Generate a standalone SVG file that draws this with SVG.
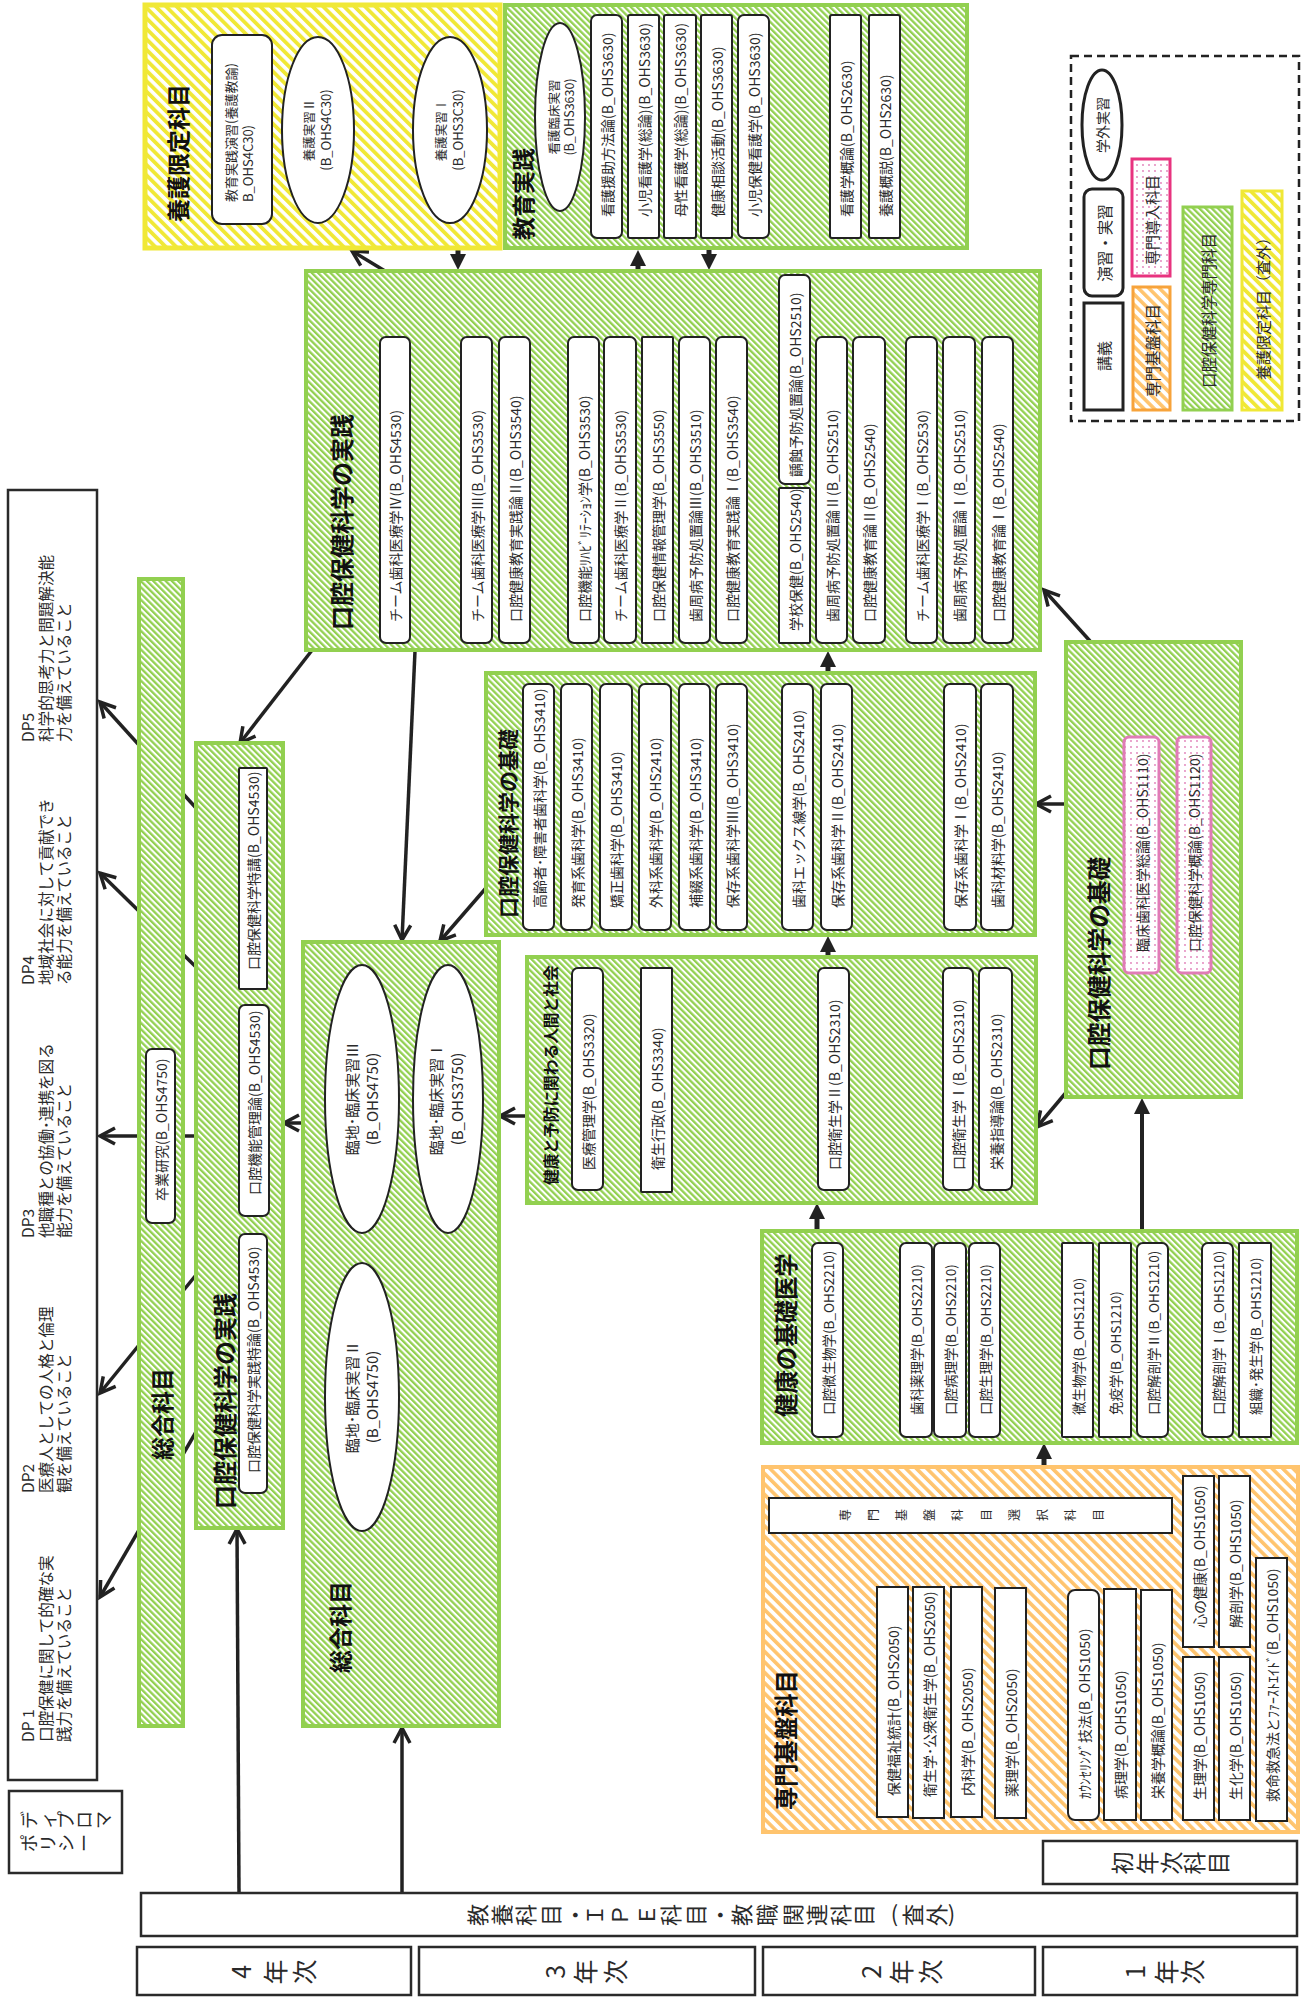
<svg xmlns="http://www.w3.org/2000/svg" width="1308" height="1997" viewBox="0 0 1308 1997">
<defs>
<style>
text{font-family:"Noto Sans CJK JP","Noto Sans",sans-serif;fill:#2a2a2a}
.r{font-size:14px;dominant-baseline:central}
.m{text-anchor:middle}
.h{font-weight:700;fill:#111;dominant-baseline:central}
.b{fill:#fff;stroke:#222;stroke-width:2}
.g{fill:url(#pg);stroke:#92D050;stroke-width:4}
.yl{fill:url(#py);stroke:#F0E836;stroke-width:5}
.o{fill:url(#po);stroke:#FFC46E;stroke-width:4}
.p{fill:url(#pp);stroke:#E07CB7;stroke-width:3}
.k{fill:#fff;stroke:#2a2a2a;stroke-width:2.5}
.c{fill:none;stroke:#222;stroke-width:3.5}
.f{fill:none;stroke:#222;stroke-width:5}
.dp{font-size:15.6px;dominant-baseline:central}
</style>
<pattern id="pg" width="4.4" height="4.4" patternUnits="userSpaceOnUse" patternTransform="rotate(-45)"><rect width="4.4" height="4.4" fill="#fff"/><rect width="2.3" height="4.4" fill="#92D050"/></pattern>
<pattern id="py" width="7.4" height="7.4" patternUnits="userSpaceOnUse" patternTransform="rotate(-45)"><rect width="7.4" height="7.4" fill="#fff"/><rect width="3.8" height="7.4" fill="#F0E836"/></pattern>
<pattern id="po" width="7.4" height="7.4" patternUnits="userSpaceOnUse" patternTransform="rotate(-45)"><rect width="7.4" height="7.4" fill="#fff"/><rect width="3.6" height="7.4" fill="#FFC46E"/></pattern>
<pattern id="pp" width="6" height="6" patternUnits="userSpaceOnUse"><rect width="6" height="6" fill="#fff"/><circle cx="3" cy="3" r="0.9" fill="#E07CB7"/></pattern>
<marker id="ao" viewBox="0 0 20 20" refX="18" refY="10" markerWidth="20" markerHeight="20" markerUnits="userSpaceOnUse" orient="auto" overflow="visible"><path d="M3,2 L18,10 L3,18" fill="none" stroke="#222" stroke-width="3.5"/></marker>
<marker id="af" viewBox="0 0 16 16" refX="6" refY="8" markerWidth="16" markerHeight="16" markerUnits="userSpaceOnUse" orient="auto"><path d="M0,0 L16,8 L0,16 Z" fill="#222"/></marker>
</defs>
<rect width="1308" height="1997" fill="#fff"/>

<g id="connectors">
<g class="c" marker-end="url(#ao)">
<path d="M385,271 L352,251"/>
<path d="M313,649 L240,743"/>
<path d="M415,651 L402,940"/>
<path d="M486,888 L440,941"/>
<path d="M303,1123 L284,1123"/>
<path d="M527,1116 L500,1116"/>
<path d="M1066,804 L1036,804"/>
<path d="M1090,641 L1044,590"/>
<path d="M1069,1089 L1037,1127"/>
<path d="M239,1893 L237,1529"/>
<path d="M402,1893 L402,1728"/>
<path d="M196,808 L100,702"/>
<path d="M196,967 L100,873"/>
<path d="M196,1136 L100,1136"/>
<path d="M196,1275 L100,1393"/>
<path d="M196,1432 L100,1597"/>
</g>
<g class="f" marker-end="url(#af)">
<path d="M458,249 L458,260"/>
<path d="M638,271 L638,260"/>
<path d="M709,249 L709,260"/>
<path d="M828,673 L828,661"/>
<path d="M828,957 L828,946"/>
<path d="M817,1231 L817,1213"/>
<path d="M1142,1231 L1142,1108" style="stroke-width:4"/>
<path d="M1044,1467 L1044,1453"/>
</g>
</g>

<g id="yogo">
<rect class="yl" x="145" y="5" width="355" height="243"/>
<text class="h" style="font-size:23px" transform="translate(177,222) rotate(-90)">養護限定科目</text>
<g id="yogo-1"><rect class="b" x="212" y="35" width="60" height="189" rx="10"/>
<text class="r" style="font-size:13px" transform="translate(230,202) rotate(-90)">教育実践演習(養護教諭)</text>
<text class="r" style="font-size:13px" transform="translate(247,202) rotate(-90)">B_OHS4C30)</text></g>
<g id="yogo-2"><ellipse class="b" cx="318" cy="130" rx="36" ry="93"/>
<text class="r m" style="font-size:12.5px" transform="translate(308,130) rotate(-90)">養護実習Ⅱ</text>
<text class="r m" style="font-size:13px" transform="translate(325,130) rotate(-90)">(B_OHS4C30)</text></g>
<g id="yogo-3"><ellipse class="b" cx="450" cy="130" rx="37" ry="93"/>
<text class="r m" style="font-size:12.5px" transform="translate(440,130) rotate(-90)">養護実習Ⅰ</text>
<text class="r m" style="font-size:13px" transform="translate(457,130) rotate(-90)">(B_OHS3C30)</text></g>
</g>

<g id="kyoiku">
<rect class="g" x="505" y="5" width="462" height="243"/>
<text class="h" style="font-size:23px" transform="translate(522,240) rotate(-90)">教育実践</text>
<g id="kyoiku-1"><ellipse class="b" cx="560" cy="117" rx="25" ry="94"/>
<text class="r m" style="font-size:12.5px" transform="translate(553,117) rotate(-90)">看護臨床実習</text>
<text class="r m" style="font-size:12.5px" transform="translate(568,117) rotate(-90)">(B_OHS3630)</text></g>
<g id="kyoiku-2"><rect class="b" x="591" y="15" width="31" height="223" rx="6"/><text class="r" transform="translate(606.5,217) rotate(-90)">看護援助方法論(B_OHS3630)</text></g>
<g id="kyoiku-3"><rect class="b" x="628" y="15" width="31" height="223" rx="2"/><text class="r" transform="translate(643.5,217) rotate(-90)">小児看護学(総論)(B_OHS3630)</text></g>
<g id="kyoiku-4"><rect class="b" x="664" y="15" width="32" height="223" rx="2"/><text class="r" transform="translate(680,217) rotate(-90)">母性看護学(総論)(B_OHS3630)</text></g>
<g id="kyoiku-5"><rect class="b" x="701" y="15" width="31" height="223" rx="2"/><text class="r" transform="translate(716.5,217) rotate(-90)">健康相談活動(B_OHS3630)</text></g>
<g id="kyoiku-6"><rect class="b" x="738" y="15" width="31" height="223" rx="6"/><text class="r" transform="translate(753.5,217) rotate(-90)">小児保健看護学(B_OHS3630)</text></g>
<g id="kyoiku-7"><rect class="b" x="830" y="15" width="31" height="223" rx="2"/><text class="r" transform="translate(845.5,217) rotate(-90)">看護学概論(B_OHS2630)</text></g>
<g id="kyoiku-8"><rect class="b" x="869" y="15" width="31" height="223" rx="2"/><text class="r" transform="translate(884.5,217) rotate(-90)">養護概説(B_OHS2630)</text></g>
</g>

<g id="jissen-upper">
<rect class="g" x="306" y="271" width="734" height="379"/>
<text class="h" style="font-size:24px" transform="translate(340,630) rotate(-90)">口腔保健科学の実践</text>
<g id="ju-1"><rect class="b" x="380" y="337" width="30" height="306" rx="6"/><text class="r" transform="translate(395,622) rotate(-90)">チーム歯科医療学Ⅳ(B_OHS4530)</text></g>
<g id="ju-2"><rect class="b" x="461" y="337" width="31" height="306" rx="6"/><text class="r" transform="translate(476.5,622) rotate(-90)">チーム歯科医療学Ⅲ(B_OHS3530)</text></g>
<g id="ju-3"><rect class="b" x="499" y="337" width="31" height="306" rx="6"/><text class="r" transform="translate(514.5,622) rotate(-90)">口腔健康教育実践論Ⅱ(B_OHS3540)</text></g>
<g id="ju-4"><rect class="b" x="568" y="337" width="31" height="306" rx="6"/><text class="r" transform="translate(583.5,622) rotate(-90)">口腔機能ﾘﾊﾋﾞﾘﾃｰｼｮﾝ学(B_OHS3530)</text></g>
<g id="ju-5"><rect class="b" x="604" y="337" width="32" height="306" rx="6"/><text class="r" transform="translate(620,622) rotate(-90)">チーム歯科医療学Ⅱ(B_OHS3530)</text></g>
<g id="ju-6"><rect class="b" x="642" y="337" width="31" height="306" rx="1"/><text class="r" transform="translate(657.5,622) rotate(-90)">口腔保健情報管理学(B_OHS3550)</text></g>
<g id="ju-7"><rect class="b" x="679" y="337" width="31" height="306" rx="6"/><text class="r" transform="translate(694.5,622) rotate(-90)">歯周病予防処置論Ⅲ(B_OHS3510)</text></g>
<g id="ju-8"><rect class="b" x="716" y="337" width="31" height="306" rx="6"/><text class="r" transform="translate(731.5,622) rotate(-90)">口腔健康教育実践論Ⅰ(B_OHS3540)</text></g>
<g id="ju-9"><rect class="b" x="779" y="275" width="31" height="209" rx="6"/><text class="r" transform="translate(794.5,477) rotate(-90)">齲蝕予防処置論(B_OHS2510)</text></g>
<g id="ju-10"><rect class="b" x="779" y="488" width="31" height="155" rx="1"/><text class="r" transform="translate(794.5,631) rotate(-90)">学校保健(B_OHS2540)</text></g>
<g id="ju-11"><rect class="b" x="816" y="337" width="31" height="306" rx="6"/><text class="r" transform="translate(831.5,622) rotate(-90)">歯周病予防処置論Ⅱ(B_OHS2510)</text></g>
<g id="ju-12"><rect class="b" x="853" y="337" width="32" height="306" rx="6"/><text class="r" transform="translate(869,622) rotate(-90)">口腔健康教育論Ⅱ(B_OHS2540)</text></g>
<g id="ju-13"><rect class="b" x="906" y="337" width="31" height="306" rx="6"/><text class="r" transform="translate(921.5,622) rotate(-90)">チーム歯科医療学Ⅰ(B_OHS2530)</text></g>
<g id="ju-14"><rect class="b" x="943" y="337" width="32" height="306" rx="6"/><text class="r" transform="translate(959,622) rotate(-90)">歯周病予防処置論Ⅰ(B_OHS2510)</text></g>
<g id="ju-15"><rect class="b" x="982" y="337" width="31" height="306" rx="6"/><text class="r" transform="translate(997.5,622) rotate(-90)">口腔健康教育論Ⅰ(B_OHS2540)</text></g>
</g>

<g id="kiso-upper">
<rect class="g" x="486" y="673" width="549" height="262"/>
<text class="h" style="font-size:21px" transform="translate(507,918) rotate(-90)">口腔保健科学の基礎</text>
<g id="ku-1"><rect class="b" x="523" y="684" width="31" height="246" rx="6"/><text class="r" transform="translate(538.5,908) rotate(-90)">高齢者･障害者歯科学(B_OHS3410)</text></g>
<g id="ku-2"><rect class="b" x="561" y="684" width="31" height="246" rx="6"/><text class="r" transform="translate(576.5,908) rotate(-90)">発育系歯科学(B_OHS3410)</text></g>
<g id="ku-3"><rect class="b" x="600" y="684" width="32" height="246" rx="6"/><text class="r" transform="translate(616,908) rotate(-90)">矯正歯科学(B_OHS3410)</text></g>
<g id="ku-4"><rect class="b" x="639" y="684" width="32" height="246" rx="6"/><text class="r" transform="translate(655,908) rotate(-90)">外科系歯科学(B_OHS2410)</text></g>
<g id="ku-5"><rect class="b" x="679" y="684" width="31" height="246" rx="6"/><text class="r" transform="translate(694.5,908) rotate(-90)">補綴系歯科学(B_OHS3410)</text></g>
<g id="ku-6"><rect class="b" x="716" y="684" width="31" height="246" rx="6"/><text class="r" transform="translate(731.5,908) rotate(-90)">保存系歯科学Ⅲ(B_OHS3410)</text></g>
<g id="ku-7"><rect class="b" x="782" y="684" width="31" height="246" rx="6"/><text class="r" transform="translate(797.5,908) rotate(-90)">歯科エックス線学(B_OHS2410)</text></g>
<g id="ku-8"><rect class="b" x="821" y="684" width="31" height="246" rx="6"/><text class="r" transform="translate(836.5,908) rotate(-90)">保存系歯科学Ⅱ(B_OHS2410)</text></g>
<g id="ku-9"><rect class="b" x="944" y="684" width="32" height="246" rx="6"/><text class="r" transform="translate(960,908) rotate(-90)">保存系歯科学Ⅰ(B_OHS2410)</text></g>
<g id="ku-10"><rect class="b" x="981" y="684" width="32" height="246" rx="6"/><text class="r" transform="translate(997,908) rotate(-90)">歯科材料学(B_OHS2410)</text></g>
</g>

<g id="kenko-yobo">
<rect class="g" x="527" y="957" width="509" height="246"/>
<text class="h" style="font-size:15.7px" transform="translate(550,1185) rotate(-90)">健康と予防に関わる人間と社会</text>
<g id="ky-1"><rect class="b" x="572" y="968" width="31" height="222" rx="6"/><text class="r" transform="translate(587.5,1170) rotate(-90)">医療管理学(B_OHS3320)</text></g>
<g id="ky-2"><rect class="b" x="641" y="968" width="31" height="224" rx="1"/><text class="r" transform="translate(656.5,1170) rotate(-90)">衛生行政(B_OHS3340)</text></g>
<g id="ky-3"><rect class="b" x="818" y="968" width="31" height="222" rx="6"/><text class="r" transform="translate(833.5,1170) rotate(-90)">口腔衛生学Ⅱ(B_OHS2310)</text></g>
<g id="ky-4"><rect class="b" x="943" y="968" width="30" height="222" rx="6"/><text class="r" transform="translate(958,1170) rotate(-90)">口腔衛生学Ⅰ(B_OHS2310)</text></g>
<g id="ky-5"><rect class="b" x="979" y="968" width="33" height="222" rx="6"/><text class="r" transform="translate(995.5,1170) rotate(-90)">栄養指導論(B_OHS2310)</text></g>
</g>

<g id="kiso-lower">
<rect class="g" x="1066" y="642" width="175" height="455"/>
<text class="h" style="font-size:23.7px" transform="translate(1098,1070) rotate(-90)">口腔保健科学の基礎</text>
<g id="kl-1"><rect class="p" x="1124" y="737" width="35" height="236" rx="5"/><text class="r" transform="translate(1141.5,952) rotate(-90)">臨床歯科医学総論(B_OHS1110)</text></g>
<g id="kl-2"><rect class="p" x="1177" y="737" width="34" height="236" rx="5"/><text class="r" transform="translate(1194,952) rotate(-90)">口腔保健科学概論(B_OHS1120)</text></g>
</g>

<g id="kenko-kiso">
<rect class="g" x="762" y="1231" width="535" height="212"/>
<text class="h" style="font-size:23.4px" transform="translate(785,1417) rotate(-90)">健康の基礎医学</text>
<g id="kk-1"><rect class="b" x="812" y="1243" width="31" height="194" rx="6"/><text class="r" style="font-size:13.5px" transform="translate(827.5,1415) rotate(-90)">口腔微生物学(B_OHS2210)</text></g>
<g id="kk-2"><rect class="b" x="900" y="1243" width="32" height="194" rx="6"/><text class="r" style="font-size:13.5px" transform="translate(916,1415) rotate(-90)">歯科薬理学(B_OHS2210)</text></g>
<g id="kk-3"><rect class="b" x="934" y="1243" width="32" height="194" rx="6"/><text class="r" style="font-size:13.5px" transform="translate(950,1415) rotate(-90)">口腔病理学(B_OHS2210)</text></g>
<g id="kk-4"><rect class="b" x="969" y="1243" width="31" height="194" rx="6"/><text class="r" style="font-size:13.5px" transform="translate(984.5,1415) rotate(-90)">口腔生理学(B_OHS2210)</text></g>
<g id="kk-5"><rect class="b" x="1062" y="1243" width="31" height="194" rx="1"/><text class="r" style="font-size:13.5px" transform="translate(1077.5,1415) rotate(-90)">微生物学(B_OHS1210)</text></g>
<g id="kk-6"><rect class="b" x="1099" y="1243" width="32" height="194" rx="1"/><text class="r" style="font-size:13.5px" transform="translate(1115,1415) rotate(-90)">免疫学(B_OHS1210)</text></g>
<g id="kk-7"><rect class="b" x="1137" y="1243" width="31" height="194" rx="6"/><text class="r" style="font-size:13.5px" transform="translate(1152.5,1415) rotate(-90)">口腔解剖学Ⅱ(B_OHS1210)</text></g>
<g id="kk-8"><rect class="b" x="1202" y="1243" width="31" height="194" rx="6"/><text class="r" style="font-size:13.5px" transform="translate(1217.5,1415) rotate(-90)">口腔解剖学Ⅰ(B_OHS1210)</text></g>
<g id="kk-9"><rect class="b" x="1239" y="1243" width="32" height="194" rx="1"/><text class="r" style="font-size:13.5px" transform="translate(1255,1415) rotate(-90)">組織･発生学(B_OHS1210)</text></g>
</g>

<g id="senmon-kiban">
<rect class="o" x="763" y="1467" width="535" height="365"/>
<text class="h" style="font-size:23.3px" transform="translate(785,1810) rotate(-90)">専門基盤科目</text>
<g id="sk-0"><rect class="b" x="769" y="1498" width="403" height="35"/>
<text style="font-size:12px" rotate="-90" x="849.6 877.6 905.6 933.6 961.6 990.6 1018.6 1046.6 1074.6 1102.6" y="1521">専門基盤科目選択科目</text></g>
<g id="sk-1"><rect class="b" x="877" y="1587" width="31" height="230"/><text class="r" transform="translate(892.5,1796) rotate(-90)">保健福祉統計(B_OHS2050)</text></g>
<g id="sk-2"><rect class="b" x="913" y="1587" width="31" height="231"/><text class="r" transform="translate(928.5,1797) rotate(-90)">衛生学･公衆衛生学(B_OHS2050)</text></g>
<g id="sk-3"><rect class="b" x="951" y="1587" width="31" height="230"/><text class="r" transform="translate(966.5,1796) rotate(-90)">内科学(B_OHS2050)</text></g>
<g id="sk-4"><rect class="b" x="995" y="1588" width="31" height="230"/><text class="r" transform="translate(1010.5,1797) rotate(-90)">薬理学(B_OHS2050)</text></g>
<g id="sk-5"><rect class="b" x="1068" y="1590" width="31" height="230" rx="7"/><text class="r" transform="translate(1083.5,1799) rotate(-90)">ｶｳﾝｾﾘﾝｸﾞ技法(B_OHS1050)</text></g>
<g id="sk-6"><rect class="b" x="1104" y="1589" width="32" height="231"/><text class="r" transform="translate(1120,1799) rotate(-90)">病理学(B_OHS1050)</text></g>
<g id="sk-7"><rect class="b" x="1141" y="1590" width="31" height="230"/><text class="r" transform="translate(1156.5,1799) rotate(-90)">栄養学概論(B_OHS1050)</text></g>
<g id="sk-8"><rect class="b" x="1183" y="1476" width="31" height="171"/><text class="r" transform="translate(1198.5,1628) rotate(-90)">心の健康(B_OHS1050)</text></g>
<g id="sk-9"><rect class="b" x="1219" y="1476" width="31" height="171"/><text class="r" transform="translate(1234.5,1628) rotate(-90)">解剖学(B_OHS1050)</text></g>
<g id="sk-10"><rect class="b" x="1183" y="1657" width="31" height="163"/><text class="r" transform="translate(1198.5,1800) rotate(-90)">生理学(B_OHS1050)</text></g>
<g id="sk-11"><rect class="b" x="1219" y="1657" width="31" height="163"/><text class="r" transform="translate(1234.5,1800) rotate(-90)">生化学(B_OHS1050)</text></g>
<g id="sk-12"><rect class="b" x="1256" y="1558" width="31" height="263"/><text class="r" transform="translate(1271.5,1802) rotate(-90)">救命救急法とﾌｧｰｽﾄｴｲﾄﾞ(B_OHS1050)</text></g>
</g>

<g id="sogo-narrow">
<rect class="g" x="139" y="579" width="44" height="1147"/>
<text class="h" style="font-size:23px" transform="translate(161,1460) rotate(-90)">総合科目</text>
<g id="sn-1"><rect class="b" x="146" y="1049" width="29" height="174" rx="6"/><text class="r" transform="translate(160.5,1201) rotate(-90)">卒業研究(B_OHS4750)</text></g>
</g>

<g id="jissen-lower">
<rect class="g" x="196" y="743" width="87" height="785"/>
<text class="h" style="font-size:24px" transform="translate(223,1509) rotate(-90)">口腔保健科学の実践</text>
<g id="jl-1"><rect class="b" x="239" y="768" width="28" height="221" rx="1"/><text class="r" transform="translate(253,970) rotate(-90)">口腔保健科学特講(B_OHS4530)</text></g>
<g id="jl-2"><rect class="b" x="239" y="1005" width="30" height="211" rx="6"/><text class="r" transform="translate(254,1195) rotate(-90)">口腔機能管理論(B_OHS4530)</text></g>
<g id="jl-3"><rect class="b" x="239" y="1234" width="28" height="259" rx="6"/><text class="r" transform="translate(253,1473) rotate(-90)">口腔保健科学実践特論(B_OHS4530)</text></g>
</g>

<g id="sogo-big">
<rect class="g" x="303" y="942" width="196" height="784"/>
<text class="h" style="font-size:23px" transform="translate(339,1673) rotate(-90)">総合科目</text>
<g id="sb-1"><ellipse class="b" cx="362" cy="1099" rx="37" ry="134"/>
<text class="r m" style="font-size:15px" transform="translate(351,1099) rotate(-90)">臨地･臨床実習Ⅲ</text>
<text class="r m" style="font-size:15px" transform="translate(371,1099) rotate(-90)">(B_OHS4750)</text></g>
<g id="sb-2"><ellipse class="b" cx="448" cy="1099" rx="35" ry="134"/>
<text class="r m" style="font-size:15px" transform="translate(435,1099) rotate(-90)">臨地･臨床実習Ⅰ</text>
<text class="r m" style="font-size:15px" transform="translate(456,1099) rotate(-90)">(B_OHS3750)</text></g>
<g id="sb-3"><ellipse class="b" cx="362" cy="1397" rx="37" ry="134"/>
<text class="r m" style="font-size:15px" transform="translate(351,1397) rotate(-90)">臨地･臨床実習Ⅱ</text>
<text class="r m" style="font-size:15px" transform="translate(371,1397) rotate(-90)">(B_OHS4750)</text></g>
</g>

<g id="dp">
<rect class="k" x="8" y="490" width="89" height="1290"/>
<g transform="translate(0,742) rotate(-90)"><text class="dp" x="0" y="27">DP5</text><text class="dp" x="0" y="45">科学的思考力と問題解決能</text><text class="dp" x="0" y="63">力を備えていること</text></g>
<g transform="translate(0,985) rotate(-90)"><text class="dp" x="0" y="27">DP4</text><text class="dp" x="0" y="45">地域社会に対して貢献でき</text><text class="dp" x="0" y="63">る能力を備えていること</text></g>
<g transform="translate(0,1238) rotate(-90)"><text class="dp" x="0" y="27">DP3</text><text class="dp" x="0" y="45">他職種との協働･連携を図る</text><text class="dp" x="0" y="63">能力を備えていること</text></g>
<g transform="translate(0,1493) rotate(-90)"><text class="dp" x="0" y="27">DP2</text><text class="dp" x="0" y="45">医療人としての人格と倫理</text><text class="dp" x="0" y="63">観を備えていること</text></g>
<g transform="translate(0,1742) rotate(-90)"><text class="dp" x="0" y="27">DP 1</text><text class="dp" x="0" y="45">口腔保健に関して的確な実</text><text class="dp" x="0" y="63">践力を備えていること</text></g>
</g>

<g id="dp-label">
<rect class="k" x="9" y="1791" width="113" height="82"/>
<text style="font-size:18px" rotate="-90" x="35.8 54.8 72.8 90.8 109.8" y="1829">ディプロマ</text>
<text style="font-size:18px" rotate="-90" x="35.8 54.8 72.8 90.8" y="1852">ポリシー</text>
</g>

<g id="kyoyo">
<rect class="k" x="141" y="1893" width="1156" height="43"/>
<text style="font-size:22px" rotate="-90 -90 -90 -90 -90 -90 -90 -90 -90 -90 -90 -90 -90 -90 -90 -90 -90 0 -90 -90 0" x="486.4 510.4 534.4 559.4 583.4 603.4 628.4 655.4 679.4 704.4 728.4 750.4 775.4 801.4 825.4 849.4 872.4 890.8 921.4 945.4 947.7" y="1926 1926 1926 1926 1926 1926 1926 1926 1926 1926 1926 1926 1926 1926 1926 1926 1926 1921.6 1926 1926 1921.6">教養科目・ＩＰＥ科目・教職関連科目(査外)</text>
</g>

<g id="shonenji">
<rect class="k" x="1043" y="1841" width="254" height="43"/>
<text style="font-size:23px" rotate="-90" x="1130.7 1155.7 1179.7 1202.7 1226.7" y="1874.5">初年次科目</text>
</g>

<g id="year4"><rect class="k" x="137" y="1947" width="274" height="48"/>
<text style="font-size:25px" rotate="-90" x="251.5 284.5 313.5" y="1978.8 1984.5 1984.5">4年次</text></g>
<g id="year3"><rect class="k" x="419" y="1947" width="336" height="48"/>
<text style="font-size:25px" rotate="-90" x="565.5 594.5 624.5" y="1978.8 1984.5 1984.5">3年次</text></g>
<g id="year2"><rect class="k" x="763" y="1947" width="272" height="48"/>
<text style="font-size:25px" rotate="-90" x="881.5 910.5 939.5" y="1978.8 1984.5 1984.5">2年次</text></g>
<g id="year1"><rect class="k" x="1043" y="1947" width="254" height="48"/>
<text style="font-size:25px" rotate="-90" x="1145.5 1175.5 1201.5" y="1978.8 1984.5 1984.5">1年次</text></g>

<g id="legend">
<rect x="1071" y="56" width="228" height="365" fill="#fff" stroke="#222" stroke-width="2.5" stroke-dasharray="8 5"/>
<g id="lg-1"><ellipse cx="1102" cy="125" rx="20" ry="55" fill="#fff" stroke="#222" stroke-width="3"/><text class="r m" style="font-size:14px" transform="translate(1102,125) rotate(-90)">学外実習</text></g>
<g id="lg-2"><rect x="1084" y="189" width="39" height="107" rx="8" fill="#fff" stroke="#222" stroke-width="3"/><text class="r m" style="font-size:15.5px" transform="translate(1103.5,243) rotate(-90)">演習・実習</text></g>
<g id="lg-3"><rect x="1084" y="303" width="39" height="107" fill="#fff" stroke="#222" stroke-width="3"/><text class="r m" style="font-size:15px" transform="translate(1103.5,356) rotate(-90)">講義</text></g>
<g id="lg-4"><rect x="1132" y="159" width="38" height="117" fill="url(#pp)" stroke="#E8337F" stroke-width="3"/><text class="r" style="font-size:15px" transform="translate(1151,265) rotate(-90)">専門導入科目</text></g>
<g id="lg-5"><rect x="1133" y="287" width="37" height="123" fill="url(#po)" stroke="#F7A33B" stroke-width="3"/><text class="r" style="font-size:15.5px" transform="translate(1151.5,397) rotate(-90)">専門基盤科目</text></g>
<g id="lg-6"><rect x="1183" y="207" width="49" height="203" class="g" style="stroke-width:3"/><text class="r" style="font-size:15.5px" transform="translate(1207.5,388) rotate(-90)">口腔保健科学専門科目</text></g>
<g id="lg-7"><rect x="1242" y="191" width="40" height="219" class="yl" style="stroke-width:3"/><text class="r" style="font-size:15px" transform="translate(1262,380) rotate(-90)">養護限定科目（査外）</text></g>
</g>
</svg>
